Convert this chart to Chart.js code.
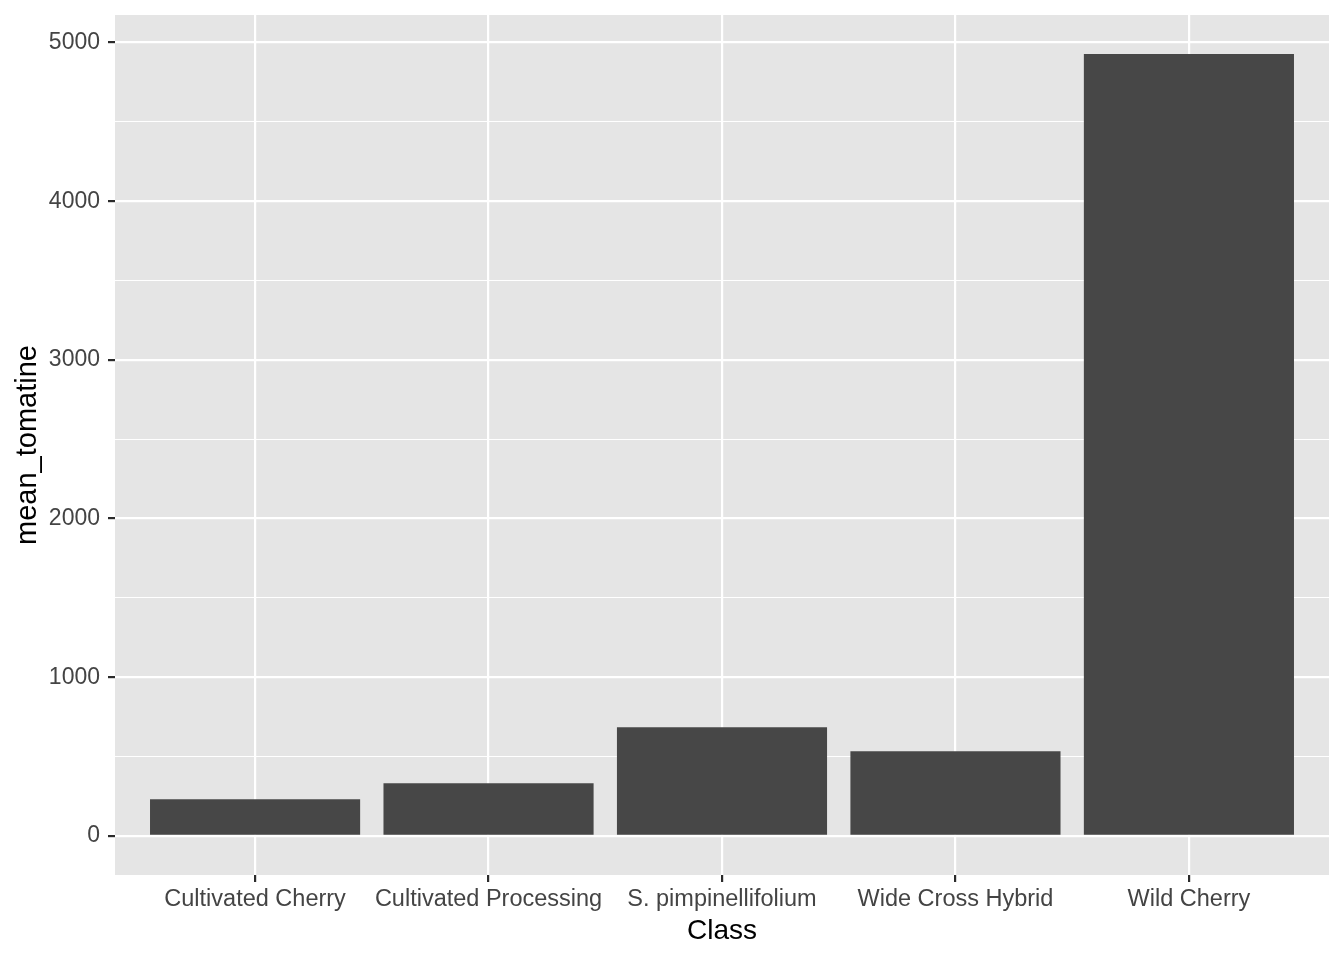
<!DOCTYPE html>
<html>
<head>
<meta charset="utf-8">
<title>mean_tomatine by Class</title>
<script src="https://cdn.jsdelivr.net/npm/chart.js@4.4.1/dist/chart.umd.min.js"></script>
<style>
  html, body { margin: 0; padding: 0; background: #ffffff; }
  #chart { display: block; }
</style>
</head>
<body>
<canvas id="chart" width="1344" height="960"></canvas>
<script>
// Data
const classes = ['Cultivated Cherry', 'Cultivated Processing', 'S. pimpinellifolium', 'Wide Cross Hybrid', 'Wild Cherry'];
const meanTomatine = [231, 332, 684, 533, 4927];
const yTicks = [0, 500, 1000, 1500, 2000, 2500, 3000, 3500, 4000, 4500, 5000];

// ggplot-like look
const PANEL_BG = '#E5E5E5';
const BAR_FILL = '#474747';
const TEXT_GREY = '#444444';
const TICK_COLOR = '#2B2B2B';
const FONT = '"Liberation Sans", Arial, Helvetica, sans-serif';

// continuous expansion of 5% like ggplot
const yMax = Math.max(...meanTomatine);
const yPad = yMax * 0.05;

const panelBackground = {
    id: 'panelBackground',
    beforeDraw(chart) {
        const { ctx, chartArea } = chart;
        ctx.save();
        ctx.fillStyle = PANEL_BG;
        ctx.fillRect(chartArea.left, chartArea.top, chartArea.right - chartArea.left, chartArea.bottom - chartArea.top);
        ctx.restore();
    }
};

const isMajor = v => v % 1000 === 0;

new Chart(document.getElementById('chart'), {
    type: 'bar',
    data: {
        datasets: [{
            label: 'mean_tomatine',
            data: meanTomatine.map((v, i) => ({ x: i + 1, y: v })),
            backgroundColor: BAR_FILL,
            borderWidth: 0,
            barPercentage: 0.9,
            categoryPercentage: 1.0
        }]
    },
    options: {
        responsive: false,
        animation: false,
        layout: { padding: { left: 0, top: 15, right: 15, bottom: 0 } },
        plugins: {
            legend: { display: false },
            tooltip: { enabled: false }
        },
        scales: {
            x: {
                type: 'linear',
                min: 0.4,
                max: classes.length + 0.6,
                offset: false,
                afterBuildTicks: axis => { axis.ticks = classes.map((c, i) => ({ value: i + 1 })); },
                afterFit: scale => {
                    scale.height = 85;
                    scale.paddingLeft = 0;
                    scale.paddingRight = 0;
                },
                border: { display: false },
                grid: {
                    offset: false,
                    color: '#FFFFFF',
                    lineWidth: 2.2,
                    tickLength: 7,
                    tickColor: TICK_COLOR,
                    tickWidth: 2.2
                },
                ticks: {
                    autoSkip: false,
                    maxRotation: 0,
                    padding: 3,
                    color: TEXT_GREY,
                    font: { family: FONT, size: 23.5 },
                    callback: v => classes[v - 1]
                },
                title: {
                    display: true,
                    text: 'Class',
                    color: '#000000',
                    font: { family: FONT, size: 28 },
                    padding: { top: 0, bottom: 12 }
                }
            },
            y: {
                type: 'linear',
                min: -yPad,
                max: yMax + yPad,
                afterBuildTicks: axis => { axis.ticks = yTicks.map(v => ({ value: v })); },
                afterFit: scale => {
                    scale.width = 115;
                    scale.paddingTop = 0;
                    scale.paddingBottom = 0;
                },
                border: { display: false },
                grid: {
                    color: '#FFFFFF',
                    lineWidth: ctx => (ctx.tick && isMajor(ctx.tick.value)) ? 2.2 : 1.1,
                    tickLength: 7,
                    tickColor: ctx => (ctx.tick && isMajor(ctx.tick.value)) ? TICK_COLOR : 'rgba(0,0,0,0)',
                    tickWidth: 2.2
                },
                ticks: {
                    padding: 8,
                    color: TEXT_GREY,
                    font: { family: FONT, size: 23 },
                    callback: v => isMajor(v) ? String(v) : ''
                },
                title: {
                    display: true,
                    text: 'mean_tomatine',
                    color: '#000000',
                    font: { family: FONT, size: 29 },
                    padding: { top: 11, bottom: 0 }
                }
            }
        }
    },
    plugins: [panelBackground]
});
</script>
</body>
</html>
